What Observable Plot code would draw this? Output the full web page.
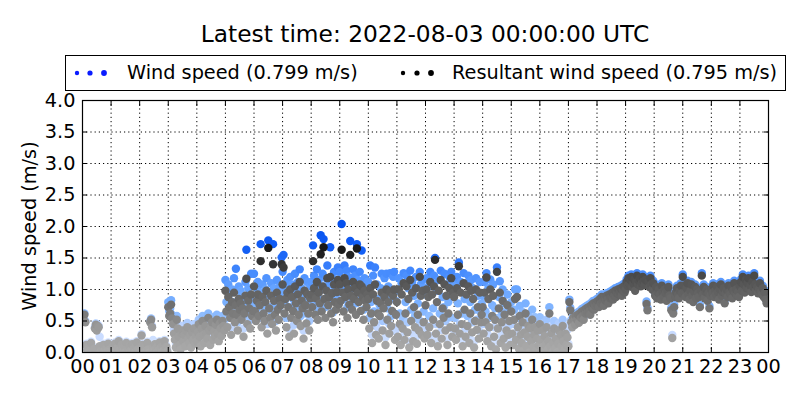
<!DOCTYPE html>
<html><head><meta charset="utf-8">
<script src="https://cdn.jsdelivr.net/npm/d3@7"></script>
<script src="https://cdn.jsdelivr.net/npm/@observablehq/plot@0.6"></script>
<style>
body{margin:0;background:#fff;}
#wrap{position:relative;width:800px;height:400px;font-family:"DejaVu Sans",sans-serif;}
#wrap > svg{position:absolute;left:0;top:0;}
#overlay{pointer-events:none;}
</style></head>
<body><div id="wrap"></div>
<script>
// Samples every 2 minutes (1/30 h), one row per hour; values in hundredths of m/s
const stepHours = 1 / 30;
const windSpeed = [
 60,54,62,50,14,6,2,10,5,17,4,2,8,40,46,37,44,42,25,4,2,7,14,5,2,9,4,16,6,2,
 5,2,12,7,16,4,2,10,20,6,2,14,8,4,11,2,17,5,9,13,2,6,15,4,8,2,12,18,7,3,
 6,2,29,14,8,2,11,5,17,7,2,50,54,42,20,4,15,8,2,12,6,18,9,2,13,5,20,7,11,4,
 80,66,70,83,60,52,37,28,14,58,45,32,18,10,37,42,25,35,16,40,47,29,22,34,14,39,27,45,20,33,
 25,40,52,33,17,46,58,36,22,50,38,30,62,43,19,48,56,28,41,33,52,60,38,26,54,47,34,58,50,44,
 115,80,55,108,92,72,40,100,80,118,62,133,76,48,105,86,98,68,90,38,80,112,163,60,102,88,52,125,75,84,
 125,84,68,102,112,76,95,172,55,108,80,68,100,118,45,178,90,72,110,62,172,102,78,50,115,86,70,105,95,151,
 128,155,80,105,55,115,92,38,120,72,108,85,44,125,98,66,112,78,132,58,102,88,35,118,95,62,112,80,50,106,
 112,92,170,122,78,106,132,70,115,98,186,84,125,180,105,72,118,138,95,108,167,82,114,64,128,100,86,116,135,96,
 128,102,204,115,84,138,108,130,72,120,95,177,110,86,132,104,122,78,172,115,100,128,84,162,108,68,118,102,90,112,
 112,55,138,80,28,122,65,135,42,108,85,36,75,102,125,50,92,118,24,125,70,105,45,126,58,88,120,128,34,82,
 98,40,118,62,24,110,55,126,34,80,122,48,102,18,130,68,112,30,90,58,120,26,78,52,128,108,42,115,65,36,
 92,118,42,105,58,128,26,110,70,122,150,45,98,20,115,62,130,36,88,72,125,50,108,22,80,120,56,128,38,112,
 105,55,34,120,78,143,45,112,62,20,126,85,38,110,58,122,26,80,115,48,102,18,68,118,52,90,35,112,64,78,
 90,45,112,65,126,30,102,56,116,20,75,108,40,70,14,135,55,88,113,26,65,100,36,78,16,50,92,42,68,22,
 80,45,22,68,100,32,100,55,14,74,42,26,64,10,46,78,20,38,58,6,52,30,68,16,42,56,10,34,50,22,
 56,32,16,46,10,38,22,52,12,28,72,20,42,5,26,50,14,34,4,24,46,10,40,20,52,30,12,42,22,36,
 14,84,71,52,45,59,54,48,62,56,64,51,66,59,69,62,56,72,66,74,68,76,70,64,79,74,82,72,78,84,
 80,86,76,89,82,92,84,78,90,86,94,88,82,96,90,92,99,88,94,102,92,98,104,96,100,106,94,102,109,99,
 104,116,110,122,112,119,124,108,114,120,102,116,126,112,118,122,109,114,124,117,111,119,81,71,116,108,122,112,104,114,
 102,94,108,90,99,104,96,88,110,100,92,104,98,86,102,108,94,90,71,28,66,76,92,100,106,96,90,102,110,98,
 124,110,99,92,106,114,96,88,102,112,94,84,100,108,90,104,98,92,76,102,126,96,108,90,100,104,86,98,74,94,
 104,98,110,92,102,96,108,100,88,104,112,94,100,106,82,98,104,92,110,100,96,108,90,102,114,98,104,94,100,92,
 109,116,102,124,112,99,119,106,114,122,104,110,100,116,108,126,112,102,108,98,104,114,100,96,106,92,99,88,82,84
];
const resultantSpeed = [
 58,52,60,48,12,4,0,8,3,15,2,0,6,38,44,35,42,40,10,2,0,5,12,3,0,7,2,14,4,0,
 3,0,10,5,14,2,0,8,18,4,0,12,6,2,9,0,15,3,7,11,0,4,13,2,6,0,10,16,5,1,
 4,0,27,12,6,0,9,3,15,5,0,48,52,40,8,2,13,6,0,10,4,16,7,0,11,3,18,5,9,2,
 72,58,62,76,54,45,30,20,8,52,38,25,12,5,30,35,18,28,10,34,40,22,15,27,8,32,20,38,14,26,
 18,32,45,25,10,38,50,28,15,42,30,22,55,35,12,40,48,20,33,25,44,52,30,18,46,38,26,50,42,35,
 98,65,40,88,72,55,28,80,62,95,48,75,60,35,85,68,78,52,70,25,62,90,117,45,82,70,38,92,58,66,
 105,65,50,82,92,58,75,145,40,88,62,50,80,98,30,166,70,55,90,45,140,82,60,35,95,68,52,85,75,140,
 108,135,62,85,40,95,72,25,100,55,88,66,30,105,78,50,92,60,112,42,82,70,22,98,75,46,92,62,35,86,
 92,72,145,102,60,86,112,52,95,78,156,65,105,167,85,55,98,118,75,88,120,62,94,48,108,80,68,96,115,76,
 108,82,163,95,65,118,88,110,55,100,76,155,90,68,112,85,102,60,165,95,80,108,66,105,88,52,98,82,72,92,
 85,38,102,62,15,92,48,108,28,82,62,22,58,78,95,35,70,88,12,100,52,80,30,96,42,66,90,100,20,60,
 80,25,100,45,12,92,38,110,20,62,105,32,85,8,115,50,95,18,72,40,102,14,60,35,120,90,28,98,48,22,
 75,100,28,88,40,112,15,92,52,105,147,30,80,10,98,45,115,22,70,55,108,35,90,12,62,102,40,118,25,95,
 88,38,20,102,60,137,30,95,45,10,110,68,25,92,42,105,15,62,98,32,85,8,50,100,36,72,22,95,48,60,
 72,30,95,48,119,18,85,40,100,10,58,90,25,52,5,128,38,70,95,15,48,82,22,60,8,35,75,28,50,12,
 65,30,12,52,85,20,88,40,6,58,28,15,48,3,32,62,10,25,42,0,38,18,52,8,28,40,4,22,35,12,
 45,20,8,35,2,26,12,40,4,18,62,10,30,0,15,38,6,22,0,14,35,3,28,10,42,18,5,30,12,24,
 10,80,67,48,40,55,50,44,58,52,60,47,62,55,65,58,52,68,62,70,64,72,66,60,75,70,78,68,74,80,
 76,82,72,85,78,88,80,74,86,82,90,84,78,92,86,88,95,84,90,98,88,94,100,92,96,102,90,98,105,95,
 100,112,106,118,108,115,120,104,110,116,98,112,122,108,114,118,105,110,120,113,107,115,77,67,112,104,118,108,100,110,
 98,90,104,86,95,100,92,84,106,96,88,100,94,82,98,104,90,86,67,23,62,72,88,96,102,92,86,98,106,94,
 120,106,95,88,102,110,92,84,98,108,90,80,96,104,86,100,94,88,72,98,122,92,104,86,96,100,82,94,70,90,
 100,94,106,88,98,92,104,96,84,100,108,90,96,102,78,94,100,88,106,96,92,104,86,98,110,94,100,90,96,88,
 105,112,98,120,108,95,115,102,110,118,100,106,96,112,104,122,108,98,104,94,100,110,96,92,102,88,95,84,78,80
];
const xTicks = [0,1,2,3,4,5,6,7,8,9,10,11,12,13,14,15,16,17,18,19,20,21,22,23,24];
const xTickLabels = ["00","01","02","03","04","05","06","07","08","09","10","11","12","13","14","15","16","17","18","19","20","21","22","23","00"];
const yTicks = [0,0.5,1,1.5,2,2.5,3,3.5,4];
const titleText = "Latest time: 2022-08-03 00:00:00 UTC";
const legendLabels = ["Wind speed (0.799 m/s)", "Resultant wind speed (0.795 m/s)"];
const yLabel = "Wind speed (m/s)";

const windData = windSpeed.map((v, i) => ({t: i * stepHours, v: v / 100}));
const resData = resultantSpeed.map((v, i) => ({t: i * stepHours, v: v / 100}));

const blueShade = d3.scaleLinear().domain([0, 0.4, 0.6, 1, 1.3, 1.6, 2])
  .range(["#dae7ff", "#c0d6ff", "#8abaff", "#68a5ff", "#4288fd", "#1460f5", "#0550ee"]).clamp(true);
const grayShade = d3.scaleLinear().domain([0, 0.4, 0.6, 1, 1.3, 1.6, 2])
  .range(["#ababab", "#9a9a9a", "#7c7c7c", "#5e5e5e", "#424242", "#1c1c1c", "#0a0a0a"]).clamp(true);

const FS = 19.3;
const chart = Plot.plot({
  width: 800, height: 400,
  marginTop: 100, marginBottom: 48, marginLeft: 82, marginRight: 32,
  style: {fontFamily: "DejaVu Sans, sans-serif", fontSize: FS + "px", color: "#000", background: "transparent"},
  x: {domain: [0, 24]},
  y: {domain: [0, 4]},
  marks: [
    Plot.ruleX(xTicks, {stroke: "#000", strokeDasharray: "1.2,3", strokeWidth: 1}),
    Plot.ruleY(yTicks, {stroke: "#000", strokeDasharray: "1.2,3", strokeWidth: 1}),
    Plot.dot(windData, {x: "t", y: "v", r: 4.2, fill: d => blueShade(d.v), stroke: null, clip: true}),
    Plot.dot(resData, {x: "t", y: "v", r: 4.2, fill: d => grayShade(d.v), stroke: null, clip: true}),
    Plot.axisX({ticks: xTicks, tickSize: 0, tickPadding: 7, tickFormat: d => xTickLabels[d], label: null}),
    Plot.axisX({anchor: "bottom", ticks: xTicks, tickSize: -5, tickFormat: () => "", label: null}),
    Plot.axisX({anchor: "top", ticks: xTicks, tickSize: -5, tickFormat: () => "", label: null}),
    Plot.axisY({ticks: yTicks, tickSize: 0, tickPadding: 7, tickFormat: d3.format(".1f"), label: null}),
    Plot.axisY({anchor: "left", ticks: yTicks, tickSize: -5, tickFormat: () => "", label: null}),
    Plot.axisY({anchor: "right", ticks: yTicks, tickSize: -5, tickFormat: () => "", label: null}),
    Plot.frame({stroke: "#000", strokeWidth: 1.2})
  ]
});
const wrap = document.getElementById("wrap");
wrap.appendChild(chart);

// Title, legend and y label overlay
const ov = d3.select(wrap).append("svg").attr("id", "overlay")
  .attr("width", 800).attr("height", 400)
  .style("font-family", "DejaVu Sans, sans-serif");
ov.append("text").attr("x", 425).attr("y", 42).attr("text-anchor", "middle")
  .attr("font-size", 23.3).text(titleText);
ov.append("rect").attr("x", 65.5).attr("y", 55.5).attr("width", 720).attr("height", 35)
  .attr("fill", "#fff").attr("stroke", "#000").attr("stroke-width", 1);
const legendItems = [
  {label: legendLabels[0], color: "#0a1cff", dotX: [77, 90, 104], textX: 127},
  {label: legendLabels[1], color: "#000", dotX: [403, 417, 431], textX: 452}
];
const dotR = [2.2, 2.6, 2.9];
for (const item of legendItems) {
  item.dotX.forEach((x, j) => ov.append("circle").attr("cx", x).attr("cy", 73).attr("r", dotR[j]).attr("fill", item.color));
  ov.append("text").attr("x", item.textX).attr("y", 79).attr("font-size", FS).text(item.label);
}
ov.append("text").attr("transform", "translate(36,226) rotate(-90)").attr("text-anchor", "middle")
  .attr("font-size", FS).text(yLabel);
</script></body></html>
